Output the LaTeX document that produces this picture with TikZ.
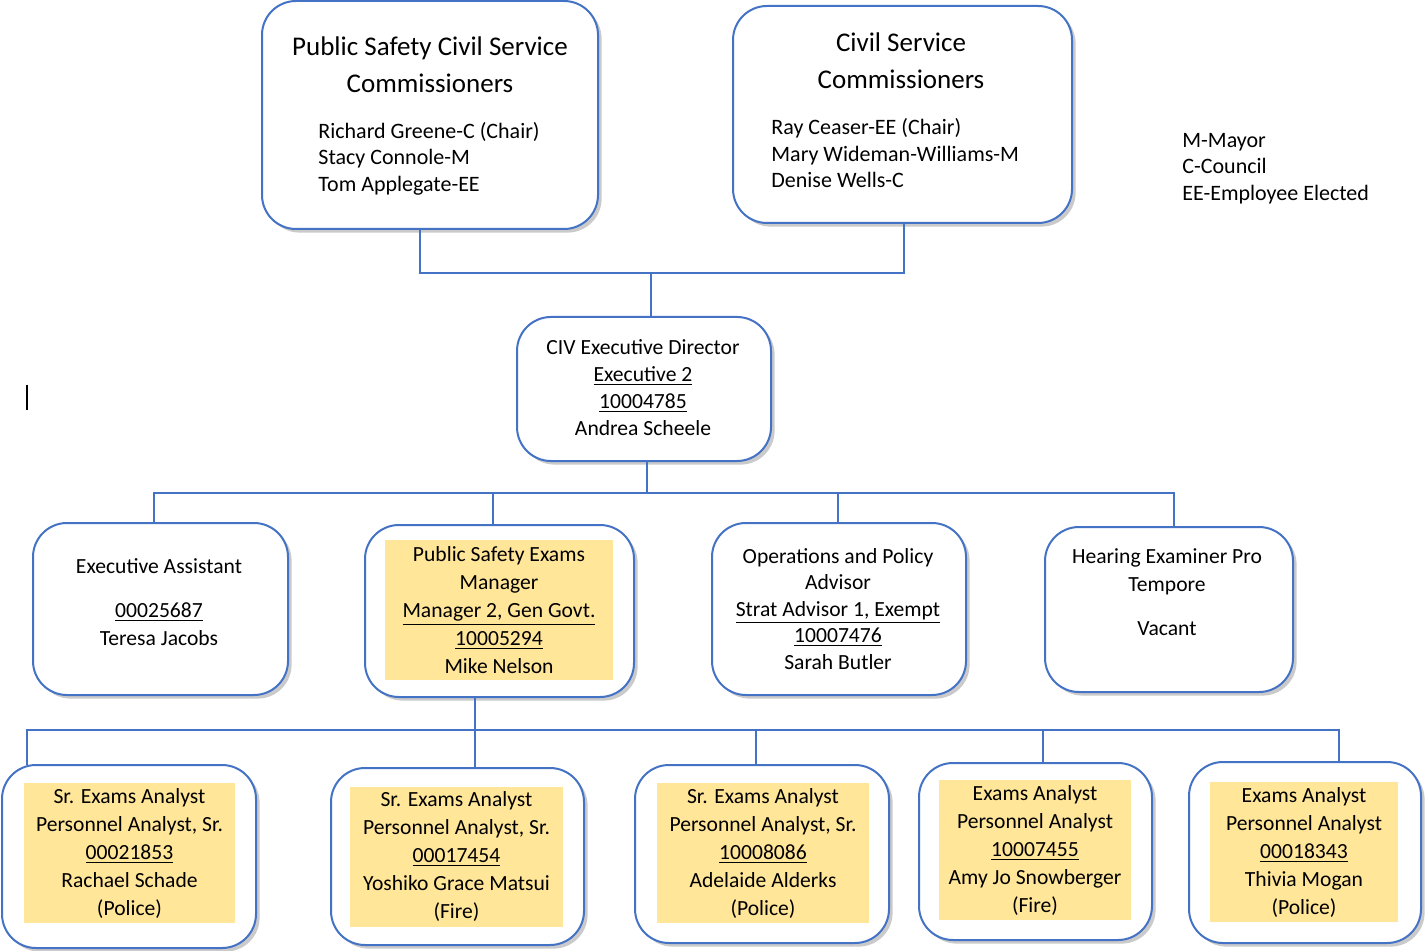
\documentclass[tikz,border=0pt]{standalone}
\usepackage{fontspec}
\setmainfont{Carlito}
\usetikzlibrary{shadows,positioning}
\definecolor{boxblue}{HTML}{4472C4}
\definecolor{hiyellow}{HTML}{FFE699}

\begin{document}
\begin{tikzpicture}[x=0.5pt,y=-0.5pt,
    orgbox/.style={draw=boxblue,line width=1pt,rounded corners=17pt,fill=white,inner sep=0pt,outer sep=0pt,
        drop shadow={shadow xshift=1.8pt,shadow yshift=-1.8pt,opacity=0.35,fill=black!60}},
    hilite/.style={fill=hiyellow,inner sep=0pt,align=center,minimum height=70pt,font=\fontsize{10.8}{14}\selectfont},
    wire/.style={draw=boxblue,line width=0.8pt},
    title/.style={align=center,font=\fontsize{13.5}{18.5}\selectfont},
    names/.style={align=left,anchor=west,inner xsep=0pt,font=\fontsize{11}{13.25}\selectfont},
    body/.style={align=center,font=\fontsize{10.8}{14}\selectfont}]
    \useasboundingbox (0,0) rectangle (1427,951);
    %commissioners
        \node[orgbox,minimum width=168pt,minimum height=114pt] (pscsc) at (430,115) {};
        \node[orgbox,minimum width=169.5pt,minimum height=108.5pt] (csc) at (902.5,114.5) {};
        \node[title] (pscsc-t) at (430,65) {Public Safety Civil Service\\Commissioners};
        \node[names] (pscsc-n) at (318,158.5) {Richard Greene-C (Chair)\\Stacy Connole-M\\Tom Applegate-EE};
        \node[title] (csc-t) at (901,60.5) {Civil Service\\Commissioners};
        \node[names] (csc-n) at (771,153.5) {Ray Ceaser-EE (Chair)\\Mary Wideman-Williams-M\\Denise Wells-C};
    %legend
        \node[names] (legend) at (1182,168.5) {M-Mayor\\C-Council\\EE-Employee Elected};
    %director
        \node[orgbox,minimum width=127pt,minimum height=72pt] (dir) at (644,389) {};
        \node[body,font=\fontsize{10.8}{13.5}\selectfont] (dir-t) at (643,388) {CIV Executive Director\\\underline{Executive 2}\\\underline{10004785}\\Andrea Scheele};
        \draw[line width=1pt] (27,385) -- (27,410);
    %second row
        \node[orgbox,minimum width=127.5pt,minimum height=86pt] (ea) at (160.5,609) {};
        \node[orgbox,minimum width=134.5pt,minimum height=86pt] (psem) at (499.5,611) {};
        \node[orgbox,minimum width=127pt,minimum height=86pt] (opa) at (839,609) {};
        \node[orgbox,minimum width=124pt,minimum height=82.5pt] (he) at (1169,609.5) {};
        \node[body] (ea-t) at (159,602) {Executive Assistant\\[8pt]\underline{00025687}\\Teresa Jacobs};
        \node[hilite,minimum width=114pt] (psem-t) at (499,610) {Public Safety Exams\\Manager\\\underline{Manager 2, Gen Govt.}\\\underline{10005294}\\Mike Nelson};
        \node[body,font=\fontsize{10.8}{13.25}\selectfont] (opa-t) at (838,609) {Operations and Policy\\Advisor\\\underline{Strat Advisor 1, Exempt}\\\underline{10007476}\\Sarah Butler};
        \node[body] (he-t) at (1167,592) {Hearing Examiner Pro\\Tempore\\[8pt]Vacant};
    %analysts
        \node[orgbox,minimum width=127pt,minimum height=91.5pt] (an1) at (129,856.5) {};
        \node[orgbox,minimum width=126.5pt,minimum height=88.5pt] (an2) at (457.5,856.5) {};
        \node[orgbox,minimum width=127pt,minimum height=89pt] (an3) at (762,854) {};
        \node[orgbox,minimum width=116.5pt,minimum height=88.5pt] (an4) at (1035.5,851.5) {};
        \node[orgbox,minimum width=116pt,minimum height=90.5pt] (an5) at (1305,852.5) {};
        \node[hilite,minimum width=105.5pt] (an1-t) at (129.5,853) {Sr. Exams Analyst\\Personnel Analyst, Sr.\\\underline{00021853}\\Rachael Schade\\(Police)};
        \node[hilite,minimum width=106.5pt] (an2-t) at (456.5,856.5) {Sr. Exams Analyst\\Personnel Analyst, Sr.\\\underline{00017454}\\Yoshiko Grace Matsui\\(Fire)};
        \node[hilite,minimum width=106pt] (an3-t) at (763,853) {Sr. Exams Analyst\\Personnel Analyst, Sr.\\\underline{10008086}\\Adelaide Alderks\\(Police)};
        \node[hilite,minimum width=96pt] (an4-t) at (1035,850) {Exams Analyst\\Personnel Analyst\\\underline{10007455}\\Amy Jo Snowberger\\(Fire)};
        \node[hilite,minimum width=94pt] (an5-t) at (1304,852) {Exams Analyst\\Personnel Analyst\\\underline{00018343}\\Thivia Mogan\\(Police)};
    %lines
        \coordinate (topjoin) at (651,273);
        \coordinate (midjoin) at (647,493);
        \coordinate (lowjoin) at (475,730);
        \draw[wire] ([xshift=-5pt]pscsc.south) |- (topjoin) -| ([xshift=0.75pt]csc.south);
        \draw[wire] (topjoin) -- (topjoin |- dir.north);
        \draw[wire] ([xshift=1.5pt]dir.south) -- (midjoin);
        \draw[wire] ([xshift=-3.25pt]ea.north) |- (midjoin) -| ([xshift=2.5pt]he.north);
        \draw[wire] ([xshift=-3.25pt]psem.north) -- ([xshift=-3.25pt]psem.north |- midjoin);
        \draw[wire] ([xshift=-0.5pt]opa.north) -- ([xshift=-0.5pt]opa.north |- midjoin);
        \draw[wire] ([xshift=-12.25pt]psem.south) -- (lowjoin);
        \draw[wire] ([xshift=-51pt]an1.north) |- (lowjoin) -| ([xshift=17pt]an5.north);
        \foreach \b/\dx in {an2/8.75,an3/-3,an4/3.75}
            \draw[wire] ([xshift=\dx pt]\b.north) -- ([xshift=\dx pt]\b.north |- lowjoin);
\end{tikzpicture}
\end{document}
